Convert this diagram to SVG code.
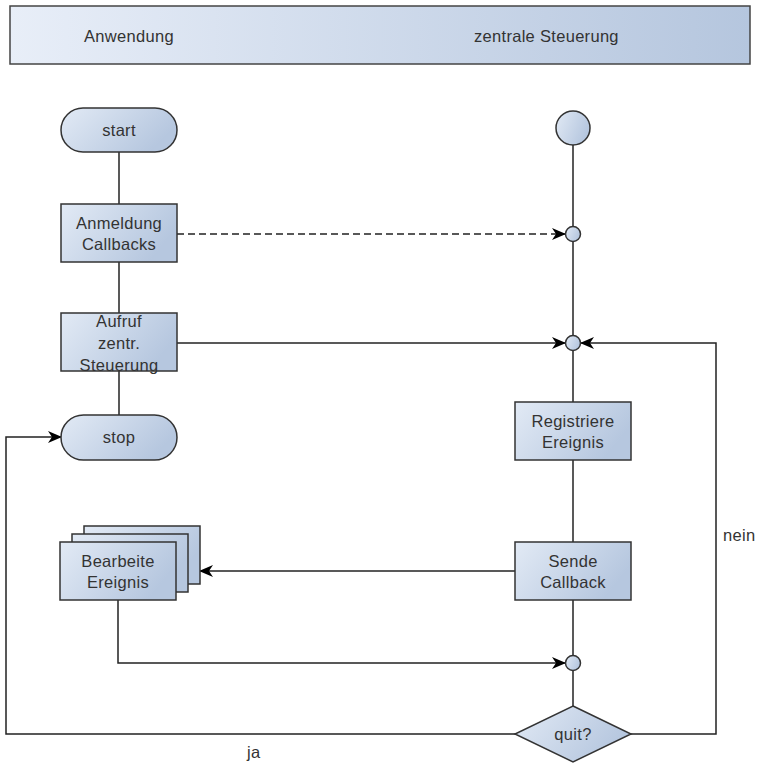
<svg xmlns="http://www.w3.org/2000/svg" width="759" height="764" viewBox="0 0 759 764">
  <defs>
    <linearGradient id="fillBlue" x1="0" y1="0" x2="1" y2="0.4">
      <stop offset="0" stop-color="#e2eaf5"/>
      <stop offset="1" stop-color="#b6c7df"/>
    </linearGradient>
    <linearGradient id="headFill" x1="0" y1="0" x2="1" y2="0">
      <stop offset="0" stop-color="#e8eef8"/>
      <stop offset="1" stop-color="#b5c6de"/>
    </linearGradient>
    <marker id="arrow" viewBox="0 0 14 12" refX="13" refY="6" markerWidth="14" markerHeight="12" markerUnits="userSpaceOnUse" orient="auto">
      <path d="M0,0 L14,6 L0,12 L4,6 Z" fill="#000"/>
    </marker>
    <style>
      .shape { fill: url(#fillBlue); stroke: #333; stroke-width: 1.5; }
      .lbl { font-family: "Liberation Sans", Arial, sans-serif; font-size: 16.5px; letter-spacing: 0.3px; fill: #333; text-anchor: middle; }
      .plain { font-family: "Liberation Sans", Arial, sans-serif; font-size: 16.5px; letter-spacing: 0.3px; fill: #333; }
      .edge { fill: none; stroke: #222; stroke-width: 1.5; }
      .dash { stroke-dasharray: 7 4; }
    </style>
  </defs>

  <!-- header band -->
  <g id="header">
    <rect x="10" y="6" width="740" height="58" fill="url(#headFill)" stroke="#444" stroke-width="1.5"/>
    <text class="plain" x="84" y="42">Anwendung</text>
    <text class="plain" x="474" y="42">zentrale Steuerung</text>
  </g>

  <!-- connectors -->
  <g id="connectors">
    <line class="edge" x1="119" y1="152" x2="119" y2="204"/>
    <line class="edge" x1="119" y1="262" x2="119" y2="313"/>
    <line class="edge" x1="119" y1="371" x2="119" y2="415"/>
    <line class="edge" x1="573" y1="145" x2="573" y2="226"/>
    <line class="edge" x1="573" y1="242" x2="573" y2="335"/>
    <line class="edge" x1="573" y1="351" x2="573" y2="402"/>
    <line class="edge" x1="573" y1="460" x2="573" y2="542"/>
    <line class="edge" x1="573" y1="600" x2="573" y2="655"/>
    <line class="edge" x1="573" y1="671" x2="573" y2="706"/>
    <line class="edge dash" x1="177" y1="234" x2="565" y2="234" marker-end="url(#arrow)"/>
    <line class="edge" x1="177" y1="343" x2="565" y2="343" marker-end="url(#arrow)"/>
    <line class="edge" x1="515" y1="571" x2="200" y2="571" marker-end="url(#arrow)"/>
    <polyline class="edge" points="118,600 118,663 565,663" marker-end="url(#arrow)"/>
    <polyline class="edge" points="631,734 716,734 716,343 581,343" marker-end="url(#arrow)"/>
    <polyline class="edge" points="515,734 6,734 6,437 61,437" marker-end="url(#arrow)"/>
    <text class="plain" x="723" y="541">nein</text>
    <text class="plain" x="247" y="758">ja</text>
  </g>

  <!-- application lane -->
  <g id="start">
    <rect class="shape" x="61" y="108" width="116" height="44" rx="22" ry="22"/>
    <text class="lbl" x="119" y="136">start</text>
  </g>
  <g id="anmeldung">
    <rect class="shape" x="61" y="204" width="116" height="58"/>
    <text class="lbl" x="119" y="229">Anmeldung</text>
    <text class="lbl" x="119" y="250">Callbacks</text>
  </g>
  <g id="aufruf">
    <rect class="shape" x="61" y="313" width="116" height="58"/>
    <text class="lbl" x="119" y="327">Aufruf</text>
    <text class="lbl" x="119" y="349">zentr.</text>
    <text class="lbl" x="119" y="371">Steuerung</text>
  </g>
  <g id="stop">
    <rect class="shape" x="61" y="415" width="116" height="45" rx="22.5" ry="22.5"/>
    <text class="lbl" x="119" y="443">stop</text>
  </g>
  <g id="bearbeite">
    <rect class="shape" x="84" y="526" width="116" height="58"/>
    <rect class="shape" x="72" y="534" width="116" height="58"/>
    <rect class="shape" x="60" y="542" width="116" height="58"/>
    <text class="lbl" x="118" y="567">Bearbeite</text>
    <text class="lbl" x="118" y="588">Ereignis</text>
  </g>

  <!-- central control lane -->
  <g id="init">
    <circle class="shape" cx="573" cy="128" r="17"/>
  </g>
  <g id="join1">
    <circle class="shape" cx="573" cy="234" r="7.5"/>
  </g>
  <g id="join2">
    <circle class="shape" cx="573" cy="343" r="7.5"/>
  </g>
  <g id="registriere">
    <rect class="shape" x="515" y="402" width="116" height="58"/>
    <text class="lbl" x="573" y="427">Registriere</text>
    <text class="lbl" x="573" y="448">Ereignis</text>
  </g>
  <g id="sende">
    <rect class="shape" x="515" y="542" width="116" height="58"/>
    <text class="lbl" x="573" y="567">Sende</text>
    <text class="lbl" x="573" y="588">Callback</text>
  </g>
  <g id="join3">
    <circle class="shape" cx="573" cy="663" r="7.5"/>
  </g>
  <g id="quit">
    <polygon class="shape" points="573,706 631,734 573,762 515,734"/>
    <text class="lbl" x="573" y="740">quit?</text>
  </g>
</svg>
